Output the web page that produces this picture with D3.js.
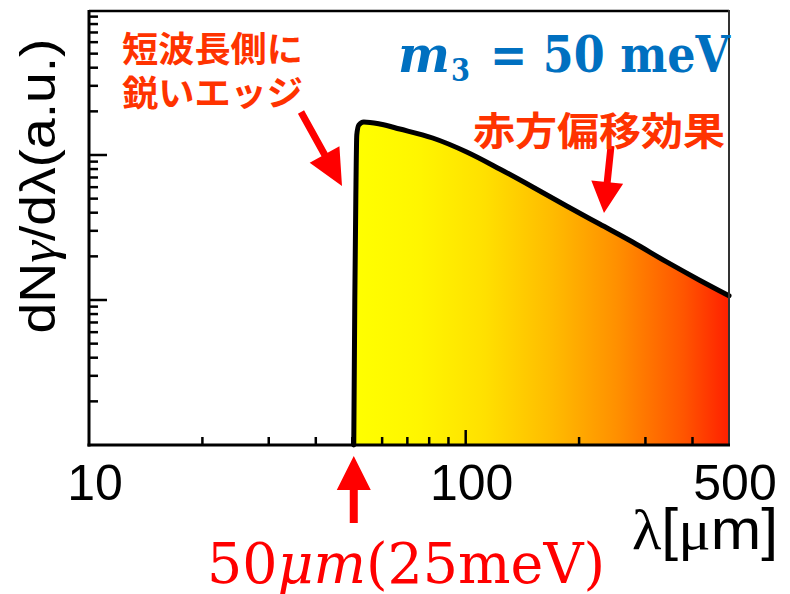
<!DOCTYPE html>
<html><head><meta charset="utf-8">
<script src="https://cdn.jsdelivr.net/npm/d3@7"></script>
<style>html,body{margin:0;padding:0;background:#fff;}svg{display:block;}</style>
</head><body>
<svg id="c" width="790" height="594"></svg>
<script>
// ---- data ----
const wavelength = [50.45, 50.77, 51.08, 51.39, 52.03, 53.63, 59.14, 66.83, 81.73, 100.6, 123.1, 150.6, 185.3, 226.7, 277.3, 341.5, 417.7, 500];
const spectrum   = [1, 10, 48.9, 137.4, 161, 168.9, 163.6, 151.1, 131, 104.9, 80.1, 60.2, 44.5, 33.4, 25.1, 18.3, 13.7, 10.7];
const xTickLabels = [10, 100, 500];
const xMinorTicks = [20, 30, 40, 50, 60, 70, 80, 90, 200, 300, 400];
const xMajorTicks = [100];
const yMajorTicks = [10, 100];
const yMinorTicks = [2,3,4,5,6,7,8,9,20,30,40,50,60,70,80,90,200,300,400,500,600,700,800,900];
const gradStops = [[0,"#ffff00"],[0.17,"#fff600"],[0.35,"#ffe000"],[0.53,"#ffbb00"],[0.70,"#ff9000"],[0.88,"#ff5500"],[1,"#ff2000"]];

const svg = d3.select("#c");
const L = 89, R = 729, T = 10, B = 445;
const x = d3.scaleLog().domain([10, 500]).range([L, R]);
const y = d3.scaleLog().domain([1, 1000]).range([B, T]);

// gradient
const defs = svg.append("defs");
const g = defs.append("linearGradient").attr("id","grad").attr("gradientUnits","userSpaceOnUse")
  .attr("x1", x(wavelength[0])).attr("x2", x(500)).attr("y1",0).attr("y2",0);
gradStops.forEach(s => g.append("stop").attr("offset", s[0]).attr("stop-color", s[1]));

const pts = wavelength.map((w,i)=>[w, spectrum[i]]);
const area = d3.area().x(d=>x(d[0])).y0(y(1)).y1(d=>y(d[1])).curve(d3.curveMonotoneX);
const line = d3.line().x(d=>x(d[0])).y(d=>y(d[1])).curve(d3.curveMonotoneX);

svg.append("path").attr("d", area(pts)).attr("fill","url(#grad)");
svg.append("path").attr("d", line(pts)).attr("fill","none").attr("stroke","#000")
  .attr("stroke-width",5).attr("stroke-linejoin","round").attr("stroke-linecap","round");

// ticks
const tk = svg.append("g").attr("stroke","#000").attr("stroke-width",2.5);
xMinorTicks.forEach(v=>tk.append("line").attr("x1",x(v)).attr("x2",x(v)).attr("y1",B).attr("y2",B-8));
xMajorTicks.forEach(v=>tk.append("line").attr("x1",x(v)).attr("x2",x(v)).attr("y1",B).attr("y2",B-15));
yMinorTicks.forEach(v=>tk.append("line").attr("x1",L).attr("x2",L+9).attr("y1",y(v)).attr("y2",y(v)));
yMajorTicks.forEach(v=>tk.append("line").attr("x1",L).attr("x2",L+18).attr("y1",y(v)).attr("y2",y(v)));

// frame
svg.append("line").attr("x1",L).attr("x2",R).attr("y1",T+1).attr("y2",T+1).attr("stroke","#000").attr("stroke-width",2.5);
svg.append("line").attr("x1",R).attr("x2",R).attr("y1",T).attr("y2",B).attr("stroke","#333").attr("stroke-width",2);
svg.append("line").attr("x1",L).attr("x2",L).attr("y1",T).attr("y2",B+1.5).attr("stroke","#000").attr("stroke-width",3);
svg.append("line").attr("x1",L-1.5).attr("x2",R+1).attr("y1",B).attr("y2",B).attr("stroke","#000").attr("stroke-width",3);

// x tick labels
svg.selectAll("text.xl").data(xTickLabels).enter().append("text")
  .attr("x", d=>x(d)+6).attr("y", 500).attr("text-anchor","middle")
  .attr("font-family","Liberation Sans, Arial, sans-serif").attr("font-size",50).text(d=>d);

// x axis title
const xt = svg.append("text").attr("x",632).attr("y",549)
  .attr("font-family","Liberation Sans, Arial, sans-serif").attr("font-size",58)
  .attr("textLength",146).attr("lengthAdjust","spacingAndGlyphs");
xt.append("tspan").attr("font-family","Liberation Serif, serif").text("λ");
xt.append("tspan").text("[");
xt.append("tspan").attr("font-family","Liberation Serif, serif").text("μ");
xt.append("tspan").text("m]");

// y axis title
const yt = svg.append("text").attr("transform","translate(55,186) rotate(-90)").attr("text-anchor","middle")
  .attr("font-family","Liberation Sans, Arial, sans-serif").attr("font-size",50)
  .attr("textLength",295).attr("lengthAdjust","spacingAndGlyphs");
yt.append("tspan").text("dN");
yt.append("tspan").attr("font-family","Liberation Serif, serif").attr("font-style","italic").text("γ");
yt.append("tspan").text("/dλ(a.u.)");

// arrows
function arrow(x1,y1,x2,y2,hl,hw,sw){
  const dx=x2-x1, dy=y2-y1, len=Math.hypot(dx,dy), ux=dx/len, uy=dy/len, nx=-uy, ny=ux;
  const bx=x2-ux*hl, by=y2-uy*hl;
  const p=[[x1+nx*sw/2,y1+ny*sw/2],[bx+nx*sw/2,by+ny*sw/2],[bx+nx*hw/2,by+ny*hw/2],[x2,y2],
           [bx-nx*hw/2,by-ny*hw/2],[bx-nx*sw/2,by-ny*sw/2],[x1-nx*sw/2,y1-ny*sw/2]];
  svg.append("polygon").attr("points",p.map(q=>q.join(",")).join(" ")).attr("fill","#ff0000");
}
arrow(x(wavelength[0]), 523, x(wavelength[0]), 456, 34, 34, 8);
arrow(301,112,342,186,36,34,7);
arrow(611,146,604,213,31,32,7);

// annotations
const jp = "Noto Sans CJK JP, sans-serif";
svg.append("text").attr("x",122).attr("y",62).attr("font-family",jp).attr("font-weight","bold")
  .attr("font-size",35).attr("fill","#ff3300").attr("textLength",181).attr("lengthAdjust","spacingAndGlyphs").text("短波長側に");
svg.append("text").attr("x",122).attr("y",106).attr("font-family",jp).attr("font-weight","bold")
  .attr("font-size",35).attr("fill","#ff3300").attr("textLength",181).attr("lengthAdjust","spacingAndGlyphs").text("鋭いエッジ");
svg.append("text").attr("x",473).attr("y",145).attr("font-family",jp).attr("font-weight","bold")
  .attr("font-size",39).attr("fill","#ff3300").attr("textLength",252).attr("lengthAdjust","spacingAndGlyphs").text("赤方偏移効果");

const ser = "DejaVu Serif, Liberation Serif, serif";
svg.append("text").attr("x",398).attr("y",72).attr("font-family",ser).attr("font-weight","bold").attr("font-style","italic")
  .attr("font-size",50).attr("fill","#0070c0").attr("textLength",52).attr("lengthAdjust","spacingAndGlyphs").text("m");
svg.append("text").attr("x",451).attr("y",81).attr("font-family",ser).attr("font-weight","bold")
  .attr("font-size",32).attr("fill","#0070c0").attr("textLength",19).attr("lengthAdjust","spacingAndGlyphs").text("3");
svg.append("text").attr("x",490).attr("y",72).attr("font-family",ser).attr("font-weight","bold")
  .attr("font-size",50).attr("fill","#0070c0").attr("textLength",240).attr("lengthAdjust","spacingAndGlyphs").text("= 50 meV");

// bottom label
const bl = svg.append("text").attr("x",207).attr("y",583).attr("font-family",ser).attr("font-size",56).attr("fill","#ff0000")
  .attr("textLength",398).attr("lengthAdjust","spacingAndGlyphs");
bl.append("tspan").text("50");
bl.append("tspan").attr("font-style","italic").text("μm");
bl.append("tspan").text("(25meV)");
</script>
</body></html>
